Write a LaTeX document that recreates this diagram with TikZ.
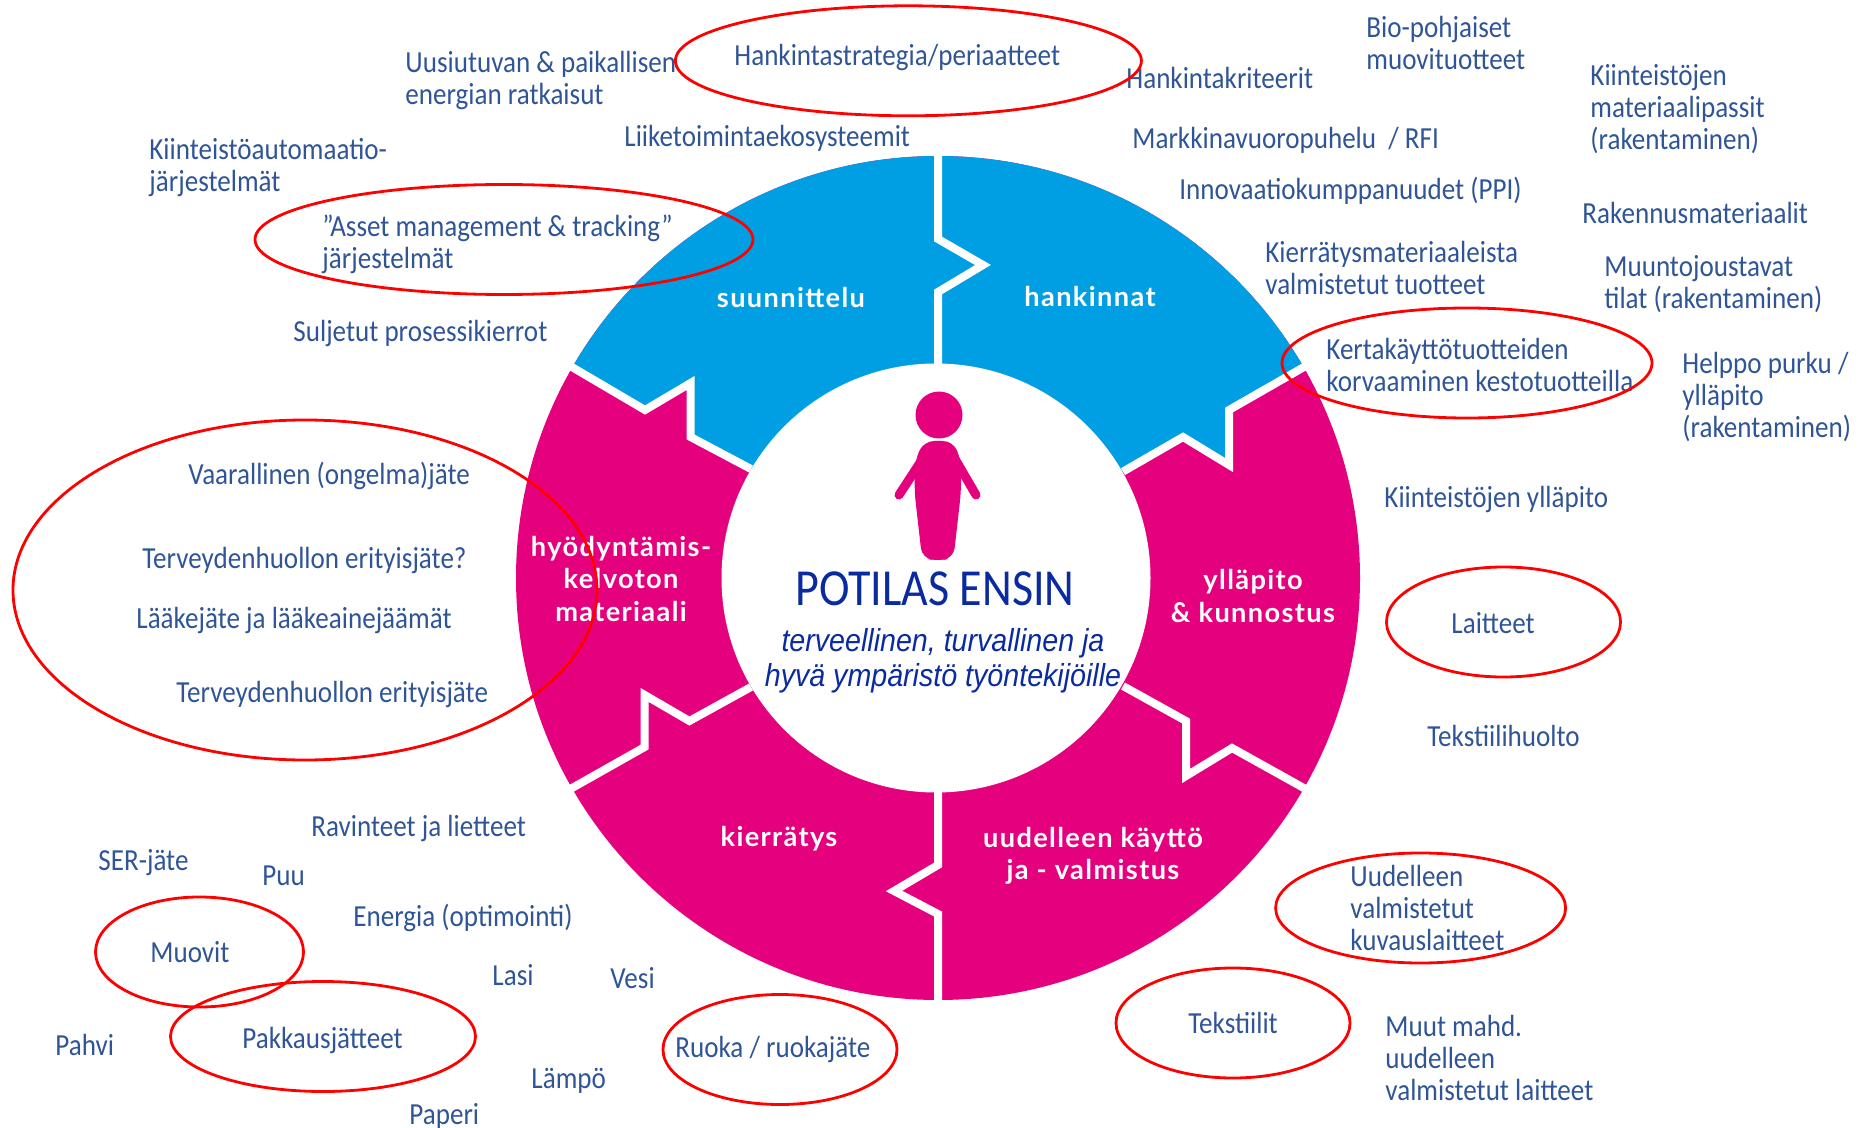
\documentclass[tikz,border=0pt]{standalone}
\usepackage{fontspec}
\setmainfont{Carlito}[FakeStretch=0.885]
\newfontfamily\wheelfont{Lato}[LetterSpace=5]
\newfontfamily\slogfont{Liberation Sans}[FakeStretch=0.9]
\definecolor{lblblue}{HTML}{2F5597}
\definecolor{wheelblue}{HTML}{009FE3}
\definecolor{wheelpink}{HTML}{E5007E}
\definecolor{slogan}{HTML}{0A2AA0}
\tikzset{
	lbl/.style={anchor=west,align=left,inner sep=0pt,yshift=-1pt,text=lblblue,font=\fontsize{15.3}{16}\selectfont},
	seg/.style={align=center,inner sep=0pt,text=white,font=\wheelfont\bfseries\fontsize{13.6}{16.2}\selectfont},
	seam/.style={draw=white,line width=4pt,miter limit=10},
	ring/.style={draw=red,line width=1.4pt}
}

\begin{document}
\begin{tikzpicture}[x=0.5pt,y=-0.5pt]
	\useasboundingbox (0,0) rectangle (1868,1128);
	
	%wheel
	\fill[wheelpink] (938,578) circle [radius=422];
	\begin{scope}
		\clip (938,578) circle [radius=422];
		\fill[wheelblue] (938,578) -- (751,469) -- (690.6,437) -- (690.6,383) -- (645,410) -- (437,288) -- (437,100) -- (1439,100) -- (1439,288) -- (1229,410) -- (1229,465) -- (1183,437) -- (1123,471.6) -- cycle;
	\end{scope}
	\draw[seam] (938,150) -- (938,239) -- (983,265) -- (938,292) -- (938,370);
	\draw[seam] (938,785) -- (938,865) -- (894,891) -- (938,914) -- (938,1005);
	\draw[seam] (751,469) -- (690.6,437) -- (690.6,383) -- (645,410) -- (565,363);
	\draw[seam] (1123,471.6) -- (1183,437) -- (1229,465) -- (1229,410) -- (1311,363);
	\draw[seam] (751,687) -- (689.4,721) -- (644.7,695) -- (644.7,747) -- (565,792);
	\draw[seam] (1123,686) -- (1186,721) -- (1186,776) -- (1232,748) -- (1311,792);
	\fill[white] (936,578) circle [radius=214.5];
	
	%person
	\fill[wheelpink] (939,415) circle [radius=23.5];
	\draw[wheelpink,line width=4.5pt,line cap=round] (927,452) -- (899,495);
	\draw[wheelpink,line width=4.5pt,line cap=round] (951,452) -- (976,495);
	\fill[wheelpink,rounded corners=5pt] (924,441) -- (915,460) -- (914.5,492) -- (922,558) -- (938,561) -- (953.5,558) -- (961,492) -- (961,460) -- (953,441) -- cycle;
	
	\node[inner sep=0pt,text=slogan,font=\fontsize{26}{28}\selectfont] (potilas) at (935,589) {POTILAS ENSIN};
	\node[inner sep=0pt,align=center,text=slogan,font=\slogfont\itshape\fontsize{15.9}{17.5}\selectfont] (slogan) at (943,661) {terveellinen, turvallinen ja\\hyvä ympäristö työntekijöille};
	
	\node[seg] (suunnittelu) at (791,298) {suunnittelu};
	\node[seg] (hankinnat) at (1090,297) {hankinnat};
	\node[seg] (hyodyntamis) at (621,579) {hyödyntämis-\\kelvoton\\materiaali};
	\node[seg] (yllapito) at (1253,596) {ylläpito\\\& kunnostus};
	\node[seg] (kierratys) at (779,839) {kierrätys};
	\node[seg] (uudelleen) at (1093,856) {uudelleen käyttö\\ja - valmistus};
	
	%labels
	\node[lbl] (uusiutuva) at (405,79) {Uusiutuvan \& paikallisen\\energian ratkaisut};
	\node[lbl] (strategia) at (734,56) {Hankintastrategia/periaatteet};
	\node[lbl] (ekosysteemit) at (624,136) {Liiketoimintaekosysteemit};
	\node[lbl] (automaatio) at (149,166) {Kiinteistöautomaatio-\\järjestelmät};
	\node[lbl] (asset) at (322,242) {\char34 Asset management \& tracking\char34\\järjestelmät};
	\node[lbl] (suljetut) at (293,331) {Suljetut prosessikierrot};
	\node[lbl] (kriteerit) at (1126,76) {Hankintakriteerit};
	\node[lbl] (bio) at (1366,41) {Bio-pohjaiset\\muovituotteet};
	\node[lbl] (passit) at (1590,107) {Kiinteistöjen\\materiaalipassit\\(rakentaminen)};
	\node[lbl] (rfi) at (1132,138) {Markkinavuoropuhelu~~/ RFI};
	\node[lbl] (ppi) at (1179,189) {Innovaatiokumppanuudet (PPI)};
	\node[lbl] (rakennus) at (1582,211) {Rakennusmateriaalit};
	\node[lbl] (kierrmat) at (1265,266) {Kierrätysmateriaaleista\\valmistetut tuotteet};
	\node[lbl] (muunto) at (1604,282) {Muuntojoustavat\\tilat (rakentaminen)};
	\node[lbl] (kerta) at (1326,363) {Kertakäyttötuotteiden\\korvaaminen kestotuotteilla};
	\node[lbl] (purku) at (1682,395) {Helppo purku /\\ylläpito\\(rakentaminen)};
	\node[lbl] (kiinteisto) at (1384,497) {Kiinteistöjen ylläpito};
	\node[lbl] (laitteet) at (1451,621) {Laitteet};
	\node[lbl] (huolto) at (1427,734) {Tekstiilihuolto};
	\node[lbl] (kuvaus) at (1350,906) {Uudelleen\\valmistetut\\kuvauslaitteet};
	\node[lbl] (tekstiilit) at (1188,1021) {Tekstiilit};
	\node[lbl] (muut) at (1385,1056) {Muut mahd.\\uudelleen\\valmistetut laitteet};
	\node[lbl] (vaarallinen) at (188,474) {Vaarallinen (ongelma)jäte};
	\node[lbl] (erityis) at (142,558) {Terveydenhuollon erityisjäte?};
	\node[lbl] (laake) at (136,618) {Lääkejäte ja lääkeainejäämät};
	\node[lbl] (erityisb) at (176,692) {Terveydenhuollon erityisjäte};
	\node[lbl] (ravinteet) at (311,826) {Ravinteet ja lietteet};
	\node[lbl] (ser) at (98,861) {SER-jäte};
	\node[lbl] (puu) at (262,874) {Puu};
	\node[lbl] (energia) at (353,916) {Energia (optimointi)};
	\node[lbl] (muovit) at (150,950) {Muovit};
	\node[lbl] (lasi) at (492,973) {Lasi};
	\node[lbl] (vesi) at (610,976) {Vesi};
	\node[lbl] (pakkaus) at (242,1038) {Pakkausjätteet};
	\node[lbl] (pahvi) at (55,1043) {Pahvi};
	\node[lbl] (ruoka) at (675,1047) {Ruoka / ruokajäte};
	\node[lbl] (lampo) at (531,1079) {Lämpö};
	\node[lbl] (paperi) at (409,1114) {Paperi};
	
	%red rings
	\draw[ring] (908.4,60.8) circle [x radius=233, y radius=55];
	\draw[ring] (504,239.5) circle [x radius=249, y radius=55];
	\draw[ring] (1467,363) circle [x radius=185, y radius=55];
	\draw[ring] (305,590) circle [x radius=292, y radius=170];
	\draw[ring] (1503.5,622) circle [x radius=117, y radius=55];
	\draw[ring] (1420.6,908) circle [x radius=145, y radius=55];
	\draw[ring] (1233,1023) circle [x radius=117, y radius=55];
	\draw[ring] (780,1049.5) circle [x radius=117, y radius=55];
	\draw[ring] (323,1036.5) circle [x radius=152.5, y radius=55];
	\draw[ring] (199.5,952) circle [x radius=104, y radius=55];
\end{tikzpicture}
\end{document}
